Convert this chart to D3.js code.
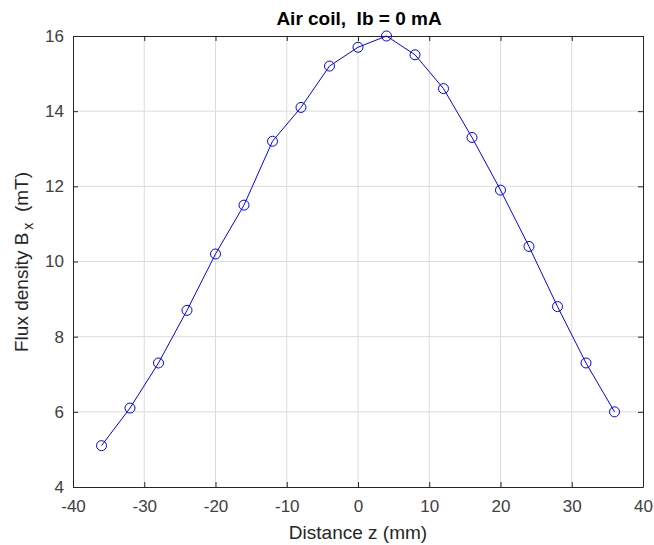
<!DOCTYPE html>
<html><head><meta charset="utf-8">
<script src="https://cdn.jsdelivr.net/npm/d3@7"></script>
<style>body{margin:0;background:#fff;} svg{display:block;font-family:"Liberation Sans",Arial,sans-serif;}</style>
</head><body>
<svg id="c" width="654" height="545"></svg>
<script>
const distance = [-36,-32,-28,-24,-20,-16,-12,-8,-4,0,4,8,12,16,20,24,28,32,36];
const flux = [5.1,6.1,7.3,8.7,10.2,11.5,13.2,14.1,15.2,15.7,16.0,15.5,14.6,13.3,11.9,10.4,8.8,7.3,6.0];
const xTicks = [-40,-30,-20,-10,0,10,20,30,40];
const yTicks = [4,6,8,10,12,14,16];

const svg = d3.select("#c");
const L=73,R=643,T=36,B=487;
const x = d3.scaleLinear().domain([-40,40]).range([L,R]);
const y = d3.scaleLinear().domain([4,16]).range([B,T]);
const fmt = d => String(d);

// grid
svg.append("g").selectAll("line").data(xTicks.slice(1,-1)).join("line")
  .attr("x1",d=>x(d)).attr("x2",d=>x(d)).attr("y1",T).attr("y2",B)
  .attr("stroke","#dcdcdc").attr("stroke-width",1);
svg.append("g").selectAll("line").data(yTicks.slice(1,-1)).join("line")
  .attr("y1",d=>y(d)).attr("y2",d=>y(d)).attr("x1",L).attr("x2",R)
  .attr("stroke","#dcdcdc").attr("stroke-width",1);

// axes
const tc="#262626";
const gx = svg.append("g").attr("transform",`translate(0,${B})`)
  .call(d3.axisBottom(x).tickValues(xTicks).tickFormat(fmt).tickSizeInner(-5).tickSizeOuter(0).tickPadding(13));
const gxt = svg.append("g").attr("transform",`translate(0,${T})`)
  .call(d3.axisTop(x).tickValues(xTicks).tickSizeInner(-5).tickSizeOuter(0).tickFormat(""));
const gy = svg.append("g").attr("transform",`translate(${L},0)`)
  .call(d3.axisLeft(y).tickValues(yTicks).tickFormat(fmt).tickSizeInner(-5).tickSizeOuter(0).tickPadding(9));
const gyr = svg.append("g").attr("transform",`translate(${R},0)`)
  .call(d3.axisRight(y).tickValues(yTicks).tickSizeInner(-5).tickSizeOuter(0).tickFormat(""));
[gx,gxt,gy,gyr].forEach(g=>{
  g.select(".domain").attr("stroke",tc);
  g.selectAll(".tick line").attr("stroke",tc);
  g.selectAll(".tick text").attr("fill","#404040").style("font-size","17px").style("font-family","'Liberation Sans',Arial,sans-serif");
});
gy.selectAll(".tick text").attr("dy","0.32em");

// line
svg.append("path").datum(distance.map((d,i)=>[d,flux[i]]))
  .attr("fill","none").attr("stroke","#0000ff").attr("stroke-width",1)
  .attr("d",d3.line().x(d=>x(d[0])).y(d=>y(d[1])));
svg.append("g").selectAll("circle").data(distance.map((d,i)=>[d,flux[i]])).join("circle")
  .attr("cx",d=>x(d[0])).attr("cy",d=>y(d[1])).attr("r",5)
  .attr("fill","none").attr("stroke","#0000ff").attr("stroke-width",1);

// title
svg.append("text").attr("x",359).attr("y",25).attr("text-anchor","middle")
  .style("font-size","19px").style("font-weight","bold").attr("fill","#000")
  .style("white-space","pre").text("Air coil,  Ib = 0 mA");
// x label
svg.append("text").attr("x",358).attr("y",539).attr("text-anchor","middle")
  .style("font-size","19px").attr("fill",tc).text("Distance z (mm)");
// y label
const yl = svg.append("text").attr("transform",`translate(28,${262}) rotate(-90)`)
  .attr("text-anchor","middle").style("font-size","19px").attr("fill",tc).style("white-space","pre");
yl.append("tspan").text("Flux density B");
yl.append("tspan").attr("dy","5").attr("dx","3").style("font-size","14px").text("x");
yl.append("tspan").attr("dy","-5").text("  (mT)");
</script>
</body></html>
